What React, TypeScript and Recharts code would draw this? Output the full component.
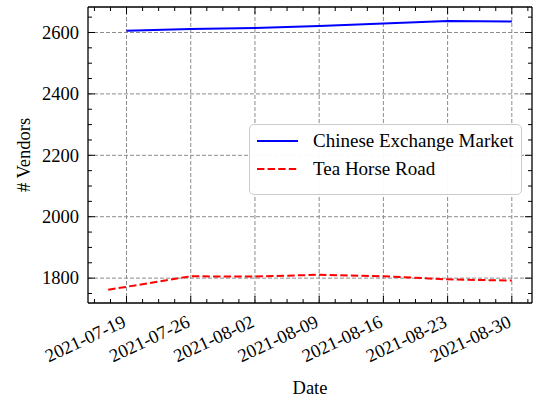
import React from 'react';
import { LineChart, Line, XAxis, YAxis, ReferenceLine, Legend } from 'recharts';

const FONT = "'Liberation Serif', 'Times New Roman', Times, serif";
const BASE = '2021-07-19';

// Chinese Exchange Market
const cemDates = ['2021-07-19', '2021-07-26', '2021-08-02', '2021-08-09', '2021-08-16', '2021-08-23', '2021-08-30'];
const cemVendors = [2606, 2611, 2615, 2621, 2629, 2637, 2636];

// Tea Horse Road
const thrDates = ['2021-07-17', '2021-07-26', '2021-08-02', '2021-08-09', '2021-08-16', '2021-08-23', '2021-08-30'];
const thrVendors = [1762, 1806, 1805, 1811, 1806, 1796, 1792];

const xTickLabels = ['2021-07-19', '2021-07-26', '2021-08-02', '2021-08-09', '2021-08-16', '2021-08-23', '2021-08-30'];
const yTickValues = [1800, 2000, 2200, 2400, 2600];

const dayOf = (d: string) => (Date.parse(d) - Date.parse(BASE)) / 86400000;

const cemData = cemDates.map((d, i) => ({ x: dayOf(d), y: cemVendors[i] }));
const thrData = thrDates.map((d, i) => ({ x: dayOf(d), y: thrVendors[i] }));

const xMajor = xTickLabels.map(dayOf);
const xMinor: number[] = [];
for (let v = -3.5; v <= 44; v += 1.75) xMinor.push(v);
const yMinor: number[] = [];
for (let v = 1750; v <= 2650; v += 50) yMinor.push(v);

const X_DOMAIN = [-4.2, 44.2];
const Y_DOMAIN = [1719, 2683];

const BLUE = '#0000ff';
const RED = '#ff0000';
const GRID = '#8c8c8c';
const TICK_FONT = 18.5;

const BottomTick = (props: any) => {
  const { x, y, payload } = props;
  const i = xMajor.indexOf(payload.value);
  const tx = x + 0.5;
  const ty = y + 23;
  return (
    <g>
      <line x1={x} x2={x} y1={y} y2={y - (i >= 0 ? 7 : 4)} stroke="#000" />
      {i >= 0 && (
        <text x={tx} y={ty} textAnchor="end" transform={`rotate(-25 ${tx} ${ty})`}
          style={{ fontFamily: FONT, fontSize: TICK_FONT }} fill="#000">
          {xTickLabels[i]}
        </text>
      )}
    </g>
  );
};

// top axis is 1px tall, its tick y sits on its upper edge
const TopTick = (props: any) => {
  const { x, y, payload } = props;
  const major = xMajor.indexOf(payload.value) >= 0;
  return <line x1={x} x2={x} y1={y} y2={y + (major ? 7 : 4)} stroke="#000" />;
};

const LeftTick = (props: any) => {
  const { x, y, payload } = props;
  const major = yTickValues.indexOf(payload.value) >= 0;
  return (
    <g>
      <line x1={x} x2={x + (major ? 7 : 4)} y1={y} y2={y} stroke="#000" />
      {major && (
        <text x={x - 9} y={y} dy="0.34em" textAnchor="end" style={{ fontFamily: FONT, fontSize: TICK_FONT }} fill="#000">
          {payload.value}
        </text>
      )}
    </g>
  );
};

const RightTick = (props: any) => {
  const { x, y, payload } = props;
  const major = yTickValues.indexOf(payload.value) >= 0;
  return <line x1={x} x2={x - (major ? 7 : 4)} y1={y} y2={y} stroke="#000" />;
};

const legendItems = [
  { name: 'Chinese Exchange Market', color: BLUE, dash: undefined },
  { name: 'Tea Horse Road', color: RED, dash: '7.4 3.2' },
];

const LegendBox = () => (
  <div
    style={{
      border: '1.5px solid #cccccc',
      borderRadius: 5,
      background: 'rgba(255,255,255,0.95)',
      padding: '2px 8px 11px 7px',
      fontFamily: FONT,
      fontSize: 19,
      color: '#000',
    }}
  >
    {legendItems.map((it) => (
      <div key={it.name} style={{ display: 'flex', alignItems: 'center', height: 28, lineHeight: '28px', whiteSpace: 'nowrap' }}>
        <svg width={41} height={6} style={{ marginRight: 15 }}>
          <line x1={0} x2={41} y1={3} y2={3} stroke={it.color} strokeWidth={2} strokeDasharray={it.dash} />
        </svg>
        <span>{it.name}</span>
      </div>
    ))}
  </div>
);

export default function App() {
  return (
    <div style={{ position: 'absolute', left: 0, top: 0, background: '#fff' }}>
      <LineChart width={536} height={398} margin={{ top: 6, right: 3, bottom: 0, left: 0 }}>
        <XAxis
          xAxisId="b"
          dataKey="x"
          type="number"
          domain={X_DOMAIN}
          allowDataOverflow
          ticks={xMinor}
          interval={0}
          height={95}
          tickSize={0}
          tickMargin={0}
          tickLine={false}
          tick={<BottomTick />}
          axisLine={{ stroke: '#000', strokeWidth: 1.3 }}
          label={{
            content: () => (
              <text x={310} y={394} textAnchor="middle" style={{ fontFamily: FONT, fontSize: TICK_FONT }} fill="#000">Date</text>
            ),
          }}
        />
        <XAxis
          xAxisId="t"
          orientation="top"
          dataKey="x"
          type="number"
          domain={X_DOMAIN}
          allowDataOverflow
          ticks={xMinor}
          interval={0}
          height={1}
          tickSize={0}
          tickMargin={0}
          tickLine={false}
          tick={<TopTick />}
          axisLine={{ stroke: '#000', strokeWidth: 1.3 }}
        />
        <YAxis
          yAxisId="l"
          type="number"
          domain={Y_DOMAIN}
          allowDataOverflow
          ticks={yMinor}
          interval={0}
          width={88}
          tickSize={0}
          tickMargin={0}
          tickLine={false}
          tick={<LeftTick />}
          axisLine={{ stroke: '#000', strokeWidth: 1.3 }}
          label={{
            content: () => (
              <text x={24} y={155} transform="rotate(-90 24 155)" textAnchor="middle" dominantBaseline="central"
                style={{ fontFamily: FONT, fontSize: TICK_FONT }} fill="#000"># Vendors</text>
            ),
          }}
        />
        <YAxis
          yAxisId="r"
          orientation="right"
          type="number"
          domain={Y_DOMAIN}
          allowDataOverflow
          ticks={yMinor}
          interval={0}
          width={1}
          tickSize={0}
          tickMargin={0}
          tickLine={false}
          tick={<RightTick />}
          axisLine={{ stroke: '#000', strokeWidth: 1.3 }}
        />
        {xMajor.map((v) => (
          <ReferenceLine key={`gx${v}`} xAxisId="b" yAxisId="l" x={v} stroke={GRID} strokeDasharray="4 2" strokeWidth={1} />
        ))}
        {yTickValues.map((v) => (
          <ReferenceLine key={`gy${v}`} xAxisId="b" yAxisId="l" y={v} stroke={GRID} strokeDasharray="4 2" strokeWidth={1} />
        ))}
        <Line
          xAxisId="b"
          yAxisId="l"
          data={cemData}
          dataKey="y"
          name="Chinese Exchange Market"
          stroke={BLUE}
          strokeWidth={2}
          dot={false}
          activeDot={false}
          isAnimationActive={false}
        />
        <Line
          xAxisId="b"
          yAxisId="l"
          data={thrData}
          dataKey="y"
          name="Tea Horse Road"
          stroke={RED}
          strokeWidth={2}
          strokeDasharray="7.4 3.2"
          dot={false}
          activeDot={false}
          isAnimationActive={false}
        />
        <Legend
          layout="horizontal"
          verticalAlign="middle"
          align="center"
          content={<LegendBox />}
          wrapperStyle={{ left: 249, top: 124, width: 'auto', height: 'auto' }}
        />
      </LineChart>
    </div>
  );
}
